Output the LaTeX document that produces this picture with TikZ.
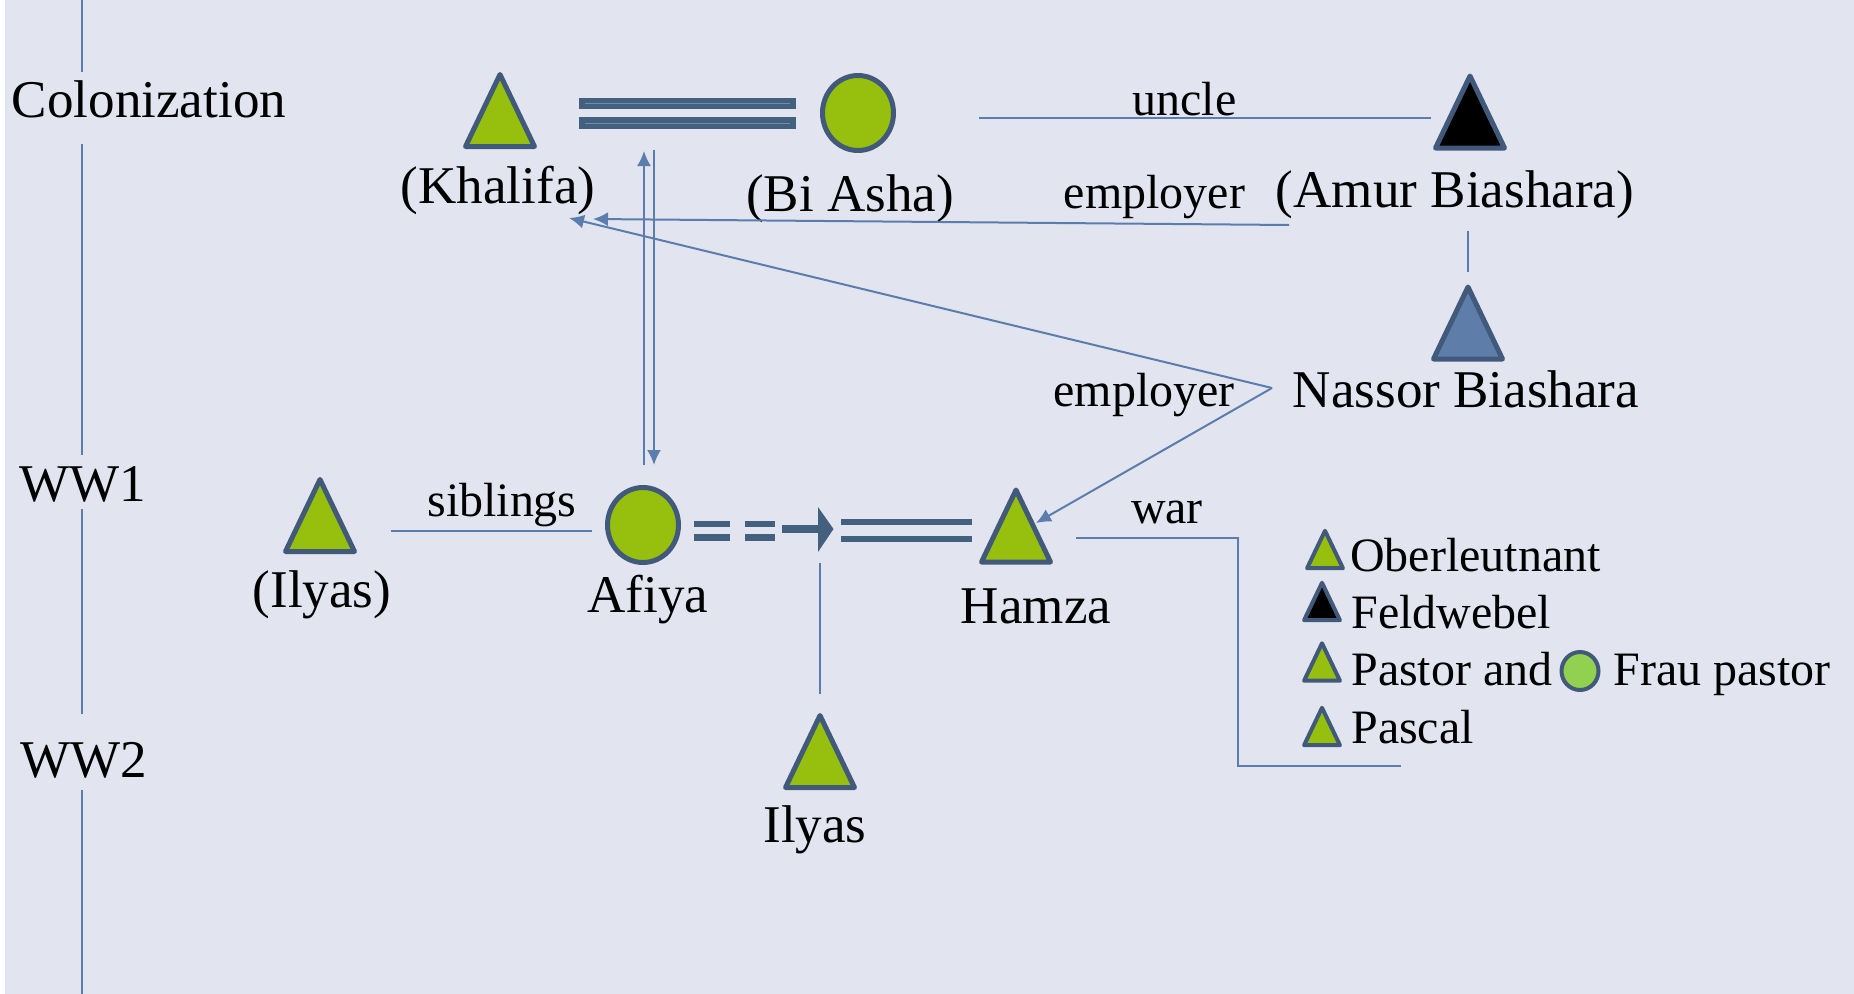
\documentclass[tikz,border=0pt]{standalone}
\usepackage{fontspec}
\setmainfont{Liberation Serif}
\usetikzlibrary{shapes.geometric,arrows.meta}

\definecolor{bgpanel}{HTML}{E2E5F0}
\definecolor{leaf}{HTML}{97BF0D}
\definecolor{lightleaf}{HTML}{92D050}
\definecolor{edge}{HTML}{41597A}
\definecolor{steel}{HTML}{5E7DA8}
\definecolor{bandblue}{HTML}{44607F}
\definecolor{linkblue}{HTML}{5B7DAE}
\definecolor{shine}{HTML}{6F8BB2}

\tikzset{
  tribox/.style={draw=edge,line width=0.1cm,line join=round},
  wife/.style={ellipse,draw=edge,fill=leaf,line width=0.1cm,minimum width=1.42cm,minimum height=1.5cm,inner sep=0pt},
  who/.style={font=\fontsize{30.2}{36}\selectfont,anchor=base,inner sep=0pt},
  lbl/.style={font=\fontsize{27.3}{33}\selectfont,anchor=base,inner sep=0pt},
  keytext/.style={lbl,anchor=base west},
  linkline/.style={draw=linkblue,line width=0.04cm},
  arr/.style={-{Latex[length=0.3cm,width=0.28cm]}},
  band/.style={draw=bandblue,line width=#1},
}

% triangle for a man: name, x, y, fill, scale
\newcommand{\mantri}[5]{%
  \coordinate (#1) at (#2,#3);
  \draw[tribox,fill=#4,shift={(#2,#3)},scale=#5] (-34.5,36) -- (0,-36) -- (34.5,36) -- cycle;}

\begin{document}
\begin{tikzpicture}[x=0.02cm,y=-0.02cm]
  \useasboundingbox (0,0) rectangle (1854,994);
  \fill[bgpanel] (0,0) rectangle (1854,994);
  \fill[white] (0,0) rectangle (4.5,994);

  % time line
  \node[who] (colon) at (149,117) {Colonization};
  \node[who] (ww1) at (82.5,501) {WW1};
  \node[who] (ww2) at (84,777) {WW2};
  \foreach \a/\b in {0/72,144/455,509/714,790/994}
    \draw[linkline] (82,\a) -- (82,\b);

  % first generation
  \mantri{khalifa}{500}{110.5}{leaf}{1}
  \node[wife] (biasha) at (858,113) {};
  \mantri{amur}{1470}{112}{black}{1}
  \mantri{nassor}{1468}{323}{steel}{1}
  \node[who] (khalifaname) at (498,203) {(Khalifa)};
  \node[who] (biashaname) at (850,211) {(Bi Asha)};
  \node[who] (amurname) at (1455,207) {(Amur Biashara)};
  \node[who] (nassorname) at (1466,407) {Nassor Biashara};

  % marriage Khalifa -- Bi Asha
  \draw[band=0.23cm] (579,103.5) -- (796,103.5);
  \draw[band=0.23cm] (579,123) -- (796,123);
  \draw[shine,line width=0.02cm] (585,103.5) -- (790,103.5);
  \draw[shine,line width=0.02cm] (585,123) -- (790,123);

  % second generation
  \mantri{ilyasold}{320}{515.5}{leaf}{1}
  \node[wife] (afiya) at (643,525) {};
  \mantri{hamza}{1016}{526}{leaf}{1}
  \mantri{ilyas}{820}{751.5}{leaf}{1}
  \node[who] (ilyasoldname) at (322,607) {(Ilyas)};
  \node[who] (afiyaname) at (648,612) {Afiya};
  \node[who] (hamzaname) at (1036,623) {Hamza};
  \node[who] (ilyasname) at (815,842) {Ilyas};

  % marriage Afiya -- Hamza
  \foreach \xa/\xb in {694/730,745/775}{
    \draw[band=0.12cm] (\xa,523.5) -- (\xb,523.5);
    \draw[band=0.14cm] (\xa,537) -- (\xb,537);
  }
  \draw[band=0.17cm] (782,529) -- (820,529);
  \fill[bandblue] (818,507) -- (833.5,529) -- (818,552) -- cycle;
  \draw[band=0.13cm] (841,522) -- (972,522);
  \draw[band=0.13cm] (841,539) -- (972,539);

  % end points of the connectors
  \coordinate (uncleL) at (979,118);
  \coordinate (uncleR) at (1431,118);
  \coordinate (empR) at (1289,225);
  \coordinate (empL) at (593,219);
  \coordinate (nassorV) at (1272,388);
  \coordinate (khalifaT) at (569,218);
  \coordinate (hamzaT) at (1036,523);
  \coordinate (upB) at (644,465);
  \coordinate (upT) at (644,151);
  \coordinate (downT) at (654,150);
  \coordinate (downB) at (654,465);
  \coordinate (amurB) at (1468,231);
  \coordinate (nassorT) at (1468,272);
  \coordinate (sibL) at (391,531);
  \coordinate (sibR) at (592,531);
  \coordinate (childT) at (820,563);
  \coordinate (childB) at (820,694);
  \coordinate (warL) at (1076,538);
  \coordinate (warC) at (1238,766);
  \coordinate (warR) at (1401,766);

  \draw[linkline] (uncleL) -- (uncleR);
  \draw[linkline,arr] (empR) -- (empL);
  \draw[linkline,arr] (nassorV) -- (khalifaT);
  \draw[linkline,arr] (nassorV) -- (hamzaT);
  \draw[linkline,arr] (upB) -- (upT);
  \draw[linkline,arr] (downT) -- (downB);
  \draw[linkline] (amurB) -- (nassorT);
  \draw[linkline] (sibL) -- (sibR);
  \draw[linkline] (childT) -- (childB);
  \draw[linkline] (warL) -| (warC) -- (warR);

  \node[lbl] (unclelbl) at (1184.5,115) {uncle};
  \node[lbl] (emplbl) at (1154.5,208) {employer};
  \node[lbl] (emplbltwo) at (1144,406) {employer};
  \node[lbl] (siblbl) at (502,516) {siblings};
  \node[lbl] (warlbl) at (1167,523) {war};

  % legend
  \begin{scope}[tribox/.append style={line width=0.08cm}]
    \mantri{keyober}{1325}{549.5}{leaf}{0.52}
    \mantri{keyfeld}{1322}{601.5}{black}{0.52}
    \mantri{keypastor}{1322}{662}{leaf}{0.52}
    \mantri{keypascal}{1322}{726.5}{leaf}{0.52}
  \end{scope}
  \node[wife,fill=lightleaf,line width=0.08cm,minimum width=0.74cm,minimum height=0.76cm] (keyfrau) at (1580,671) {};
  \node[keytext] (ober) at (1350,571) {Oberleutnant};
  \node[keytext] (feld) at (1351,628) {Feldwebel};
  \node[keytext] (pastor) at (1351,685) {Pastor and};
  \node[keytext] (frau) at (1613,685) {Frau pastor};
  \node[keytext] (pascal) at (1351,743) {Pascal};
\end{tikzpicture}
\end{document}
